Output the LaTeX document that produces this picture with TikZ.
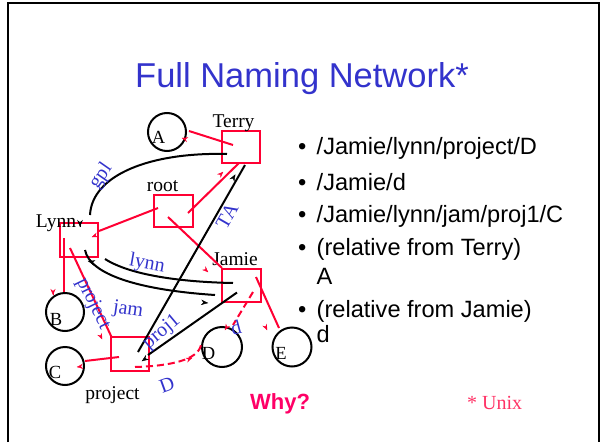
\documentclass[tikz,border=0pt]{standalone}
\usepackage{fontspec}
\setmainfont{Liberation Serif}
\setsansfont{Liberation Sans}
\usetikzlibrary{arrows.meta,calc}
\definecolor{netred}{RGB}{255,0,51}
\definecolor{netblue}{RGB}{51,51,204}
\definecolor{whypink}{RGB}{255,0,102}
\definecolor{unixpink}{RGB}{255,51,102}
% a detached arrow head: style, tip point, direction (dx,dy)
\newcommand\headat[4]{\draw[#1] (#2) -- ++(#3/300,#4/300);}
\begin{document}
\begin{tikzpicture}[x=1pt,y=-1pt,
  dirbox/.style={draw=netred, line width=2pt, minimum width=38pt, minimum height=33pt, inner sep=0pt},
  filecirc/.style={draw=black, line width=2pt, circle, minimum size=38pt, inner sep=0pt},
  dirname/.style={font=\fontsize{19.5}{22}\selectfont, anchor=base, inner sep=0pt},
  filename/.style={font=\fontsize{18.5}{21}\selectfont, anchor=base, inner sep=0pt},
  linklabel/.style={font=\fontsize{20}{22}\selectfont, text=netblue, inner sep=0pt},
  redlink/.style={draw=netred, line width=2pt},
  blacklink/.style={draw=black, line width=2pt},
  symlink/.style={redlink, dash pattern=on 7pt off 4pt},
  redtip/.style={netred, -{Stealth[length=6pt,width=5pt]}},
  blacktip/.style={black, -{Stealth[length=7pt,width=5.5pt]}},
  item/.style={font=\sffamily\fontsize{23.6}{26}\selectfont, anchor=base west, inner sep=0pt},
]
\useasboundingbox (0,0) rectangle (600,442);

% slide frame
\draw[line width=2.5pt, line join=miter] (8,442) -- (8,3) -- (598.8,3) -- (598.8,442);

% title
\node[font=\sffamily\fontsize{34.5}{38}\selectfont, text=netblue, anchor=base] (title) at (302,87) {Full Naming Network*};

% directories
\node[dirbox, minimum height=32pt] (terry) at (241,147) {};
\node[dirbox, minimum width=39pt, minimum height=32pt] (root) at (173.5,211) {};
\node[dirbox, minimum height=34pt] (lynn) at (79,240) {};
\node[dirbox, minimum width=39pt] (jamie) at (241.5,285.5) {};
\node[dirbox, minimum height=34pt] (project) at (130,354) {};

\node[dirname] (terrylbl) at (233.5,127) {Terry};
\node[dirname] (rootlbl) at (162.5,191) {root};
\node[dirname] (lynnlbl) at (56,227) {Lynn};
\node[dirname] (jamielbl) at (235,265) {Jamie};
\node[dirname] (projectlbl) at (112.5,399) {project};

% files
\node[filecirc] (A) at (167,132) {};
\node[filecirc] (B) at (65,312) {};
\node[filecirc] (C) at (65,366) {};
\node[filecirc, minimum size=40pt] (D) at (222,347) {};
\node[filecirc, minimum size=39pt] (E) at (292,347) {};

\node[filename] (Albl) at (158.5,143) {A};
\node[filename] (Blbl) at (56,325) {B};
\node[filename] (Clbl) at (55,378) {C};
\node[filename] (Dlbl) at (208.5,359) {D};
\node[filename] (Elbl) at (281,359) {E};

% hard links (red)
\draw[redlink] ([shift={(-8,-2)}]terry.center) -- ([shift={(2,-1)}]A.east);
\draw[redlink] ([shift={(14.5,2)}]root.center) -- ([shift={(-2,16)}]terry.center);
\draw[redlink] ([shift={(-15.5,-3)}]root.center) -- ([shift={(20,-9)}]lynn.center);
\draw[redlink] ([shift={(-5.5,6)}]root.center) -- ([shift={(-19.5,-17.5)}]jamie.center);
\draw[redlink] ([shift={(-15,-2)}]lynn.center) -- ([xshift=-1]B.north);
\draw[redlink] ([shift={(-9,8)}]lynn.center) -- ([shift={(-18,-16)}]project.center);
\draw[redlink] ([shift={(-11,3)}]project.center) -- ([shift={(0,-5)}]C.east);
\draw[redlink] ([shift={(14.5,-8.5)}]jamie.center) -- ([shift={(-13,-19)}]E.center);

% symbolic links (dashed)
\draw[symlink] ([shift={(11.5,6.5)}]jamie.center) -- ([shift={(11,-22)}]D.center);
\draw[symlink] ([shift={(5,13)}]project.center) .. controls (170,366) and (198,360) .. ([shift={(0,-2)}]D.west);

% links drawn in black
\draw[blacklink] ([shift={(-14,7)}]terry.center) .. controls (150,152) and (92,175) .. ([shift={(11,-25)}]lynn.center);
\draw[blacklink] ([shift={(6,10)}]lynn.center) .. controls (90,275) and (140,290) .. ([shift={(-26.5,9.5)}]jamie.center);
\draw[blacklink] ([shift={(-8.5,-2.5)}]jamie.center) .. controls (180,282) and (130,275) .. ([shift={(26,19)}]lynn.center);
\draw[blacklink] ([shift={(-4.5,7)}]jamie.center) -- ([shift={(18,1)}]project.center);
\draw[blacklink] ([shift={(8,-2)}]project.center) -- ([shift={(4,18)}]terry.center);

% arrow heads
\headat{redtip}{182,138}{-45}{-14}
\headat{redtip}{223,172}{51}{-50}
\headat{redtip}{92,237}{-59}{23}
\headat{redtip}{208,272}{54}{51}
\headat{redtip}{53,295}{0}{1}
\headat{redtip}{102,339}{42}{90}
\headat{redtip}{77,367}{-35}{4}
\headat{redtip}{267,330}{23}{51}
\headat{redtip}{225,330}{-20}{33}
\headat{redtip}{192,358}{10}{-4}
\headat{blacktip}{80,227}{0}{1}
\headat{blacktip}{208,303}{10}{1}
\headat{blacktip}{88,261}{-10}{-3}
\headat{blacktip}{142,361}{-89}{62}
\headat{blacktip}{235,175}{107}{-187}

% link names
\node[linklabel, rotate=55] (gpllbl) at (101,176) {gpl};
\node[linklabel, rotate=60] (talbl) at (227,216) {TA};
\node[linklabel, rotate=-10] (lynnlink) at (147,264) {lynn};
\node[linklabel, rotate=-64] (projectlink) at (93,304) {project};
\node[linklabel, rotate=-8] (jamlbl) at (128,310) {jam};
\node[linklabel, rotate=40] (proj1lbl) at (162,332) {proj1};
\node[linklabel, rotate=15] (dlbl) at (236,328) {d};
\node[linklabel, rotate=20] (Dlink) at (167,385) {D};

% bullet list
\foreach \yy/\txt in {154/{/Jamie/lynn/project/D}, 190/{/Jamie/d}, 222/{/Jamie/lynn/jam/proj1/C}, 255/{(relative from Terry)}, 317/{(relative from Jamie)}}{
  \node[item] at (298,\yy) {•};
  \node[item] at (316.5,\yy) {\txt};
}
\node[item] (itemA) at (316.5,284) {A};
\node[item] (itemd) at (316.5,342) {d};

% footer
\node[font=\sffamily\bfseries\fontsize{22}{26}\selectfont, text=whypink, anchor=base] (why) at (280,409) {Why?};
\node[font=\fontsize{20}{24}\selectfont, text=unixpink, anchor=base west, inner sep=0pt] (unix) at (467,409) {* Unix};
\end{tikzpicture}
\end{document}
